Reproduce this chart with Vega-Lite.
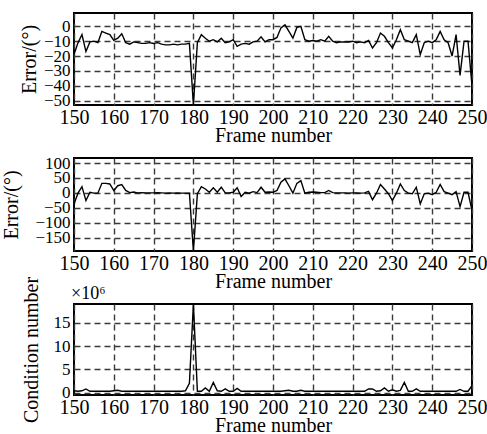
{
  "$schema": "https://vega.github.io/schema/vega-lite/v6.json",
  "padding": {"left": 0, "top": 12, "right": 0, "bottom": 5},
  "background": "white",
  "bounds": "flush",
  "spacing": 53,
  "config": {
    "font": "Liberation Serif",
    "view": {"stroke": "black", "strokeWidth": 2},
    "axis": {
      "labelFont": "Liberation Serif",
      "titleFont": "Liberation Serif",
      "labelColor": "black",
      "titleColor": "black",
      "titleFontWeight": "normal",
      "ticks": false,
      "domain": false,
      "gridColor": "#3a3a3a",
      "gridDash": [6, 4],
      "gridWidth": 1.4,
      "gridOpacity": 1,
      "labelOverlap": false,
      "labelFlush": false
    },
    "axisX": {"labelFontSize": 20, "titleFontSize": 20, "labelPadding": 2, "titlePadding": -2},
    "axisY": {"labelFontSize": 17, "titleFontSize": 20, "labelPadding": 4}
  },
  "datasets": {
    "err1": [
      {"frame":150,"v":-19},{"frame":151,"v":-11},{"frame":152,"v":-5.6},{"frame":153,"v":-17},{"frame":154,"v":-10.5},
      {"frame":155,"v":-10},{"frame":156,"v":-11},{"frame":157,"v":-3.4},{"frame":158,"v":-4.5},{"frame":159,"v":-5.6},
      {"frame":160,"v":-9.5},{"frame":161,"v":-8},{"frame":162,"v":-5},{"frame":163,"v":-11},{"frame":164,"v":-12},
      {"frame":165,"v":-10.5},{"frame":166,"v":-11},{"frame":167,"v":-11.5},{"frame":168,"v":-11.5},{"frame":169,"v":-11},
      {"frame":170,"v":-11.5},{"frame":171,"v":-11},{"frame":172,"v":-12},{"frame":173,"v":-12.5},{"frame":174,"v":-12.5},
      {"frame":175,"v":-12},{"frame":176,"v":-12.5},{"frame":177,"v":-12},{"frame":178,"v":-12},{"frame":179,"v":-11.5},
      {"frame":180,"v":-53},{"frame":181,"v":-11},{"frame":182,"v":-5.6},{"frame":183,"v":-8},{"frame":184,"v":-10},
      {"frame":185,"v":-9},{"frame":186,"v":-10.5},{"frame":187,"v":-8},{"frame":188,"v":-11},{"frame":189,"v":-10.5},
      {"frame":190,"v":-9},{"frame":191,"v":-13.5},{"frame":192,"v":-12},{"frame":193,"v":-11.5},{"frame":194,"v":-12},
      {"frame":195,"v":-10.5},{"frame":196,"v":-10},{"frame":197,"v":-7},{"frame":198,"v":-10.5},{"frame":199,"v":-9},
      {"frame":200,"v":-9},{"frame":201,"v":-7.5},{"frame":202,"v":-1},{"frame":203,"v":1},{"frame":204,"v":-3.4},
      {"frame":205,"v":-8},{"frame":206,"v":-0.7},{"frame":207,"v":0},{"frame":208,"v":-9},{"frame":209,"v":-10},
      {"frame":210,"v":-9.5},{"frame":211,"v":-10},{"frame":212,"v":-9},{"frame":213,"v":-10},{"frame":214,"v":-6.7},
      {"frame":215,"v":-10},{"frame":216,"v":-11},{"frame":217,"v":-10.5},{"frame":218,"v":-10.5},{"frame":219,"v":-10.5},
      {"frame":220,"v":-10},{"frame":221,"v":-11},{"frame":222,"v":-10.5},{"frame":223,"v":-11},{"frame":224,"v":-9.5},
      {"frame":225,"v":-14.6},{"frame":226,"v":-11},{"frame":227,"v":-4.5},{"frame":228,"v":-6.7},{"frame":229,"v":-11},
      {"frame":230,"v":-14.6},{"frame":231,"v":-9},{"frame":232,"v":-2.2},{"frame":233,"v":-9},{"frame":234,"v":-10},
      {"frame":235,"v":-11},{"frame":236,"v":-5.6},{"frame":237,"v":-19},{"frame":238,"v":-11},{"frame":239,"v":-10},
      {"frame":240,"v":-11},{"frame":241,"v":-9},{"frame":242,"v":-3.4},{"frame":243,"v":-9},{"frame":244,"v":-11},
      {"frame":245,"v":-20},{"frame":246,"v":-5.6},{"frame":247,"v":-33},{"frame":248,"v":-10},{"frame":249,"v":-10},
      {"frame":250,"v":-40}
    ],
    "err2": [
      {"frame":150,"v":-37},{"frame":151,"v":-1},{"frame":152,"v":21},{"frame":153,"v":-26},{"frame":154,"v":2},
      {"frame":155,"v":-1},{"frame":156,"v":-1},{"frame":157,"v":32},{"frame":158,"v":32},{"frame":159,"v":30},
      {"frame":160,"v":8},{"frame":161,"v":24},{"frame":162,"v":28},{"frame":163,"v":8},{"frame":164,"v":1},
      {"frame":165,"v":3},{"frame":166,"v":0},{"frame":167,"v":1},{"frame":168,"v":0},{"frame":169,"v":0},
      {"frame":170,"v":0},{"frame":171,"v":1},{"frame":172,"v":0},{"frame":173,"v":-1},{"frame":174,"v":0},
      {"frame":175,"v":-1},{"frame":176,"v":0},{"frame":177,"v":-1},{"frame":178,"v":-1},{"frame":179,"v":-1},
      {"frame":180,"v":-195},{"frame":181,"v":-3},{"frame":182,"v":21},{"frame":183,"v":13},{"frame":184,"v":2},
      {"frame":185,"v":17},{"frame":186,"v":2},{"frame":187,"v":19},{"frame":188,"v":0},{"frame":189,"v":0},
      {"frame":190,"v":2},{"frame":191,"v":17},{"frame":192,"v":-12},{"frame":193,"v":2},{"frame":194,"v":-1},
      {"frame":195,"v":4},{"frame":196,"v":1},{"frame":197,"v":19},{"frame":198,"v":2},{"frame":199,"v":3},
      {"frame":200,"v":2},{"frame":201,"v":8},{"frame":202,"v":36},{"frame":203,"v":47},{"frame":204,"v":24},
      {"frame":205,"v":-1},{"frame":206,"v":32},{"frame":207,"v":41},{"frame":208,"v":-1},{"frame":209,"v":2},
      {"frame":210,"v":3},{"frame":211,"v":2},{"frame":212,"v":1},{"frame":213,"v":1},{"frame":214,"v":8},
      {"frame":215,"v":1},{"frame":216,"v":0},{"frame":217,"v":0},{"frame":218,"v":0},{"frame":219,"v":-1},
      {"frame":220,"v":0},{"frame":221,"v":0},{"frame":222,"v":-1},{"frame":223,"v":0},{"frame":224,"v":5},
      {"frame":225,"v":-23},{"frame":226,"v":-1},{"frame":227,"v":28},{"frame":228,"v":13},{"frame":229,"v":-3},
      {"frame":230,"v":-26},{"frame":231,"v":-1},{"frame":232,"v":30},{"frame":233,"v":8},{"frame":234,"v":-1},
      {"frame":235,"v":-3},{"frame":236,"v":19},{"frame":237,"v":-37},{"frame":238,"v":-3},{"frame":239,"v":-1},
      {"frame":240,"v":-6},{"frame":241,"v":2},{"frame":242,"v":28},{"frame":243,"v":4},{"frame":244,"v":-1},
      {"frame":245,"v":-6},{"frame":246,"v":4},{"frame":247,"v":-46},{"frame":248,"v":2},{"frame":249,"v":2},
      {"frame":250,"v":-59}
    ],
    "cond": [
      {"frame":150,"v":0.4},{"frame":151,"v":0.3},{"frame":152,"v":0.4},{"frame":153,"v":0.8},{"frame":154,"v":0.3},
      {"frame":155,"v":0.3},{"frame":156,"v":0.3},{"frame":157,"v":0.3},{"frame":158,"v":0.3},{"frame":159,"v":0.3},
      {"frame":160,"v":0.4},{"frame":161,"v":0.5},{"frame":162,"v":0.3},{"frame":163,"v":0.3},{"frame":164,"v":0.3},
      {"frame":165,"v":0.3},{"frame":166,"v":0.3},{"frame":167,"v":0.3},{"frame":168,"v":0.3},{"frame":169,"v":0.3},
      {"frame":170,"v":0.3},{"frame":171,"v":0.3},{"frame":172,"v":0.3},{"frame":173,"v":0.3},{"frame":174,"v":0.3},
      {"frame":175,"v":0.3},{"frame":176,"v":0.3},{"frame":177,"v":0.3},{"frame":178,"v":0.4},{"frame":179,"v":2},
      {"frame":180,"v":19},{"frame":181,"v":0.3},{"frame":182,"v":0.3},{"frame":183,"v":1.0},{"frame":184,"v":0.3},
      {"frame":185,"v":2.2},{"frame":186,"v":0.4},{"frame":187,"v":0.3},{"frame":188,"v":0.8},{"frame":189,"v":0.3},
      {"frame":190,"v":0.3},{"frame":191,"v":0.9},{"frame":192,"v":0.3},{"frame":193,"v":0.3},{"frame":194,"v":0.3},
      {"frame":195,"v":0.3},{"frame":196,"v":0.3},{"frame":197,"v":0.3},{"frame":198,"v":0.3},{"frame":199,"v":0.3},
      {"frame":200,"v":0.3},{"frame":201,"v":0.3},{"frame":202,"v":0.3},{"frame":203,"v":0.4},{"frame":204,"v":0.5},
      {"frame":205,"v":0.3},{"frame":206,"v":0.3},{"frame":207,"v":0.5},{"frame":208,"v":0.3},{"frame":209,"v":0.3},
      {"frame":210,"v":0.3},{"frame":211,"v":0.3},{"frame":212,"v":0.3},{"frame":213,"v":0.3},{"frame":214,"v":0.3},
      {"frame":215,"v":0.3},{"frame":216,"v":0.3},{"frame":217,"v":0.3},{"frame":218,"v":0.3},{"frame":219,"v":0.3},
      {"frame":220,"v":0.3},{"frame":221,"v":0.3},{"frame":222,"v":0.3},{"frame":223,"v":0.3},{"frame":224,"v":0.8},
      {"frame":225,"v":0.8},{"frame":226,"v":0.3},{"frame":227,"v":0.4},{"frame":228,"v":1.0},{"frame":229,"v":0.3},
      {"frame":230,"v":0.6},{"frame":231,"v":0.3},{"frame":232,"v":0.5},{"frame":233,"v":2.2},{"frame":234,"v":0.3},
      {"frame":235,"v":0.3},{"frame":236,"v":0.8},{"frame":237,"v":0.3},{"frame":238,"v":0.3},{"frame":239,"v":0.3},
      {"frame":240,"v":0.3},{"frame":241,"v":0.3},{"frame":242,"v":0.3},{"frame":243,"v":0.3},{"frame":244,"v":0.3},
      {"frame":245,"v":0.3},{"frame":246,"v":0.3},{"frame":247,"v":0.7},{"frame":248,"v":0.3},{"frame":249,"v":0.3},
      {"frame":250,"v":1.5}
    ]
  },
  "vconcat": [
    {
      "width": 398, "height": 92,
      "data": {"name": "err1"},
      "mark": {"type": "line", "color": "black", "strokeWidth": 1.4, "clip": true},
      "encoding": {
        "x": {"field": "frame", "type": "quantitative", "title": "Frame number",
              "scale": {"domain": [150, 250], "nice": false},
              "axis": {"values": [150,160,170,180,190,200,210,220,230,240,250]}},
        "y": {"field": "v", "type": "quantitative", "title": "Error/(°)",
              "scale": {"domain": [-53, 9], "nice": false, "zero": false},
              "axis": {"values": [0,-10,-20,-30,-40,-50], "titlePadding": 4}}
      }
    },
    {
      "width": 398, "height": 93,
      "data": {"name": "err2"},
      "mark": {"type": "line", "color": "black", "strokeWidth": 1.4, "clip": true},
      "encoding": {
        "x": {"field": "frame", "type": "quantitative", "title": "Frame number",
              "scale": {"domain": [150, 250], "nice": false},
              "axis": {"values": [150,160,170,180,190,200,210,220,230,240,250]}},
        "y": {"field": "v", "type": "quantitative", "title": "Error/(°)",
              "scale": {"domain": [-195, 117], "nice": false, "zero": false},
              "axis": {"values": [100,50,0,-50,-100,-150], "titlePadding": 13}}
      }
    },
    {
      "width": 398, "height": 91,
      "title": {"text": "×10⁶", "anchor": "start", "frame": "group", "fontSize": 18, "font": "Liberation Serif", "fontWeight": "normal", "color": "black", "offset": -27, "dx": -3},
      "data": {"name": "cond"},
      "mark": {"type": "line", "color": "black", "strokeWidth": 1.4, "clip": true},
      "encoding": {
        "x": {"field": "frame", "type": "quantitative", "title": "Frame number",
              "scale": {"domain": [150, 250], "nice": false},
              "axis": {"values": [150,160,170,180,190,200,210,220,230,240,250]}},
        "y": {"field": "v", "type": "quantitative", "title": "Condition number",
              "scale": {"domain": [-0.5, 19], "nice": false, "zero": false},
              "axis": {"values": [0,5,10,15], "titlePadding": 12}}
      }
    }
  ]
}
